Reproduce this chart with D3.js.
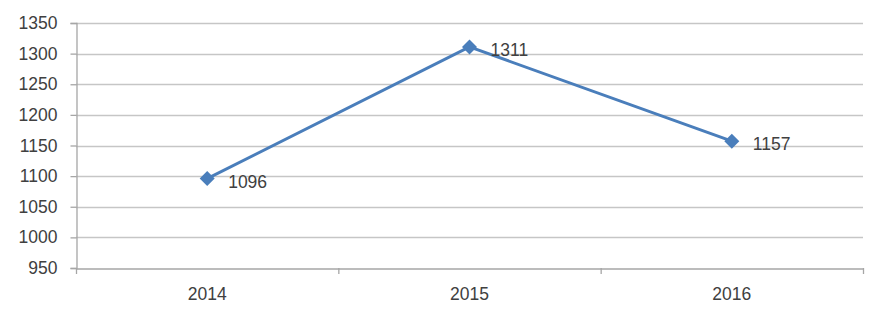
<!DOCTYPE html>
<html>
<head>
<meta charset="utf-8">
<script src="https://cdn.jsdelivr.net/npm/d3@7"></script>
<style>
  body { margin: 0; background: #fff; }
  text { font-family: "Liberation Sans", Arial, sans-serif; }
</style>
</head>
<body>
<script>
// chart values
var years = ["2014", "2015", "2016"];
var counts = [1096, 1311, 1157];
var yTicks = [950, 1000, 1050, 1100, 1150, 1200, 1250, 1300, 1350];

var w = 885, h = 320;
var plotLeft = 76, plotRight = 863, plotTop = 23, plotBottom = 268;

var svg = d3.select("body").append("svg")
    .attr("width", w)
    .attr("height", h);

svg.append("rect")
    .attr("width", w)
    .attr("height", h)
    .attr("fill", "#fff");

var x = d3.scaleBand()
    .domain(years)
    .range([plotLeft, plotRight]);

var y = d3.scaleLinear()
    .domain([950, 1350])
    .range([plotBottom, plotTop]);

// horizontal gridlines
svg.append("g")
  .selectAll("line")
  .data(yTicks.slice(1))
  .join("line")
    .attr("x1", plotLeft)
    .attr("x2", plotRight)
    .attr("y1", d => Math.round(y(d)) + 0.5)
    .attr("y2", d => Math.round(y(d)) + 0.5)
    .attr("stroke", "#c6c6c6")
    .attr("stroke-width", 1.3);

// y axis
var yAxis = svg.append("g")
    .attr("transform", "translate(" + (plotLeft + 0.5) + ",0)")
    .call(d3.axisLeft(y).tickValues(yTicks).tickSize(6).tickPadding(13).tickFormat(d3.format("d")));
yAxis.selectAll("line").attr("stroke", "#a6a6a6").attr("stroke-width", 1.3);
yAxis.select(".domain").attr("stroke", "#a6a6a6").attr("stroke-width", 1.3);
yAxis.selectAll("text")
    .attr("fill", "#404040")
    .style("font-size", "17.5px");

// x axis
var xAxis = svg.append("g")
    .attr("transform", "translate(0," + (Math.round(plotBottom) + 0.5) + ")")
    .call(d3.axisBottom(x).tickSize(0).tickPadding(19));
xAxis.select(".domain").attr("stroke", "#a6a6a6").attr("stroke-width", 1.3);
xAxis.selectAll("text")
    .attr("fill", "#404040")
    .style("font-size", "17.5px");

// category boundary ticks
svg.append("g")
  .selectAll("line")
  .data(years.concat(["end"]))
  .join("line")
    .attr("x1", (d, i) => i < years.length ? x(d) + 0.5 : plotRight + 0.5)
    .attr("x2", (d, i) => i < years.length ? x(d) + 0.5 : plotRight + 0.5)
    .attr("y1", plotBottom)
    .attr("y2", plotBottom + 6)
    .attr("stroke", "#a6a6a6")
    .attr("stroke-width", 1.3);

var cx = d => x(d) + x.bandwidth() / 2;

// series line
svg.append("path")
    .datum(years)
    .attr("d", d3.line()
      .x(d => cx(d))
      .y((d, i) => y(counts[i])))
    .attr("fill", "none")
    .attr("stroke", "#4a7ebb")
    .attr("stroke-width", 3);

// diamond markers
svg.append("g")
  .selectAll("path")
  .data(years)
  .join("path")
    .attr("transform", (d, i) => "translate(" + cx(d) + "," + y(counts[i]) + ")")
    .attr("d", "M0,-7.5L7.5,0L0,7.5L-7.5,0Z")
    .attr("fill", "#4a7ebb");

// data labels
svg.append("g")
  .selectAll("text")
  .data(years)
  .join("text")
    .attr("x", d => cx(d) + 21)
    .attr("y", (d, i) => y(counts[i]) + 9)
    .attr("fill", "#404040")
    .style("font-size", "17.5px")
    .text((d, i) => counts[i]);
</script>
</body>
</html>
